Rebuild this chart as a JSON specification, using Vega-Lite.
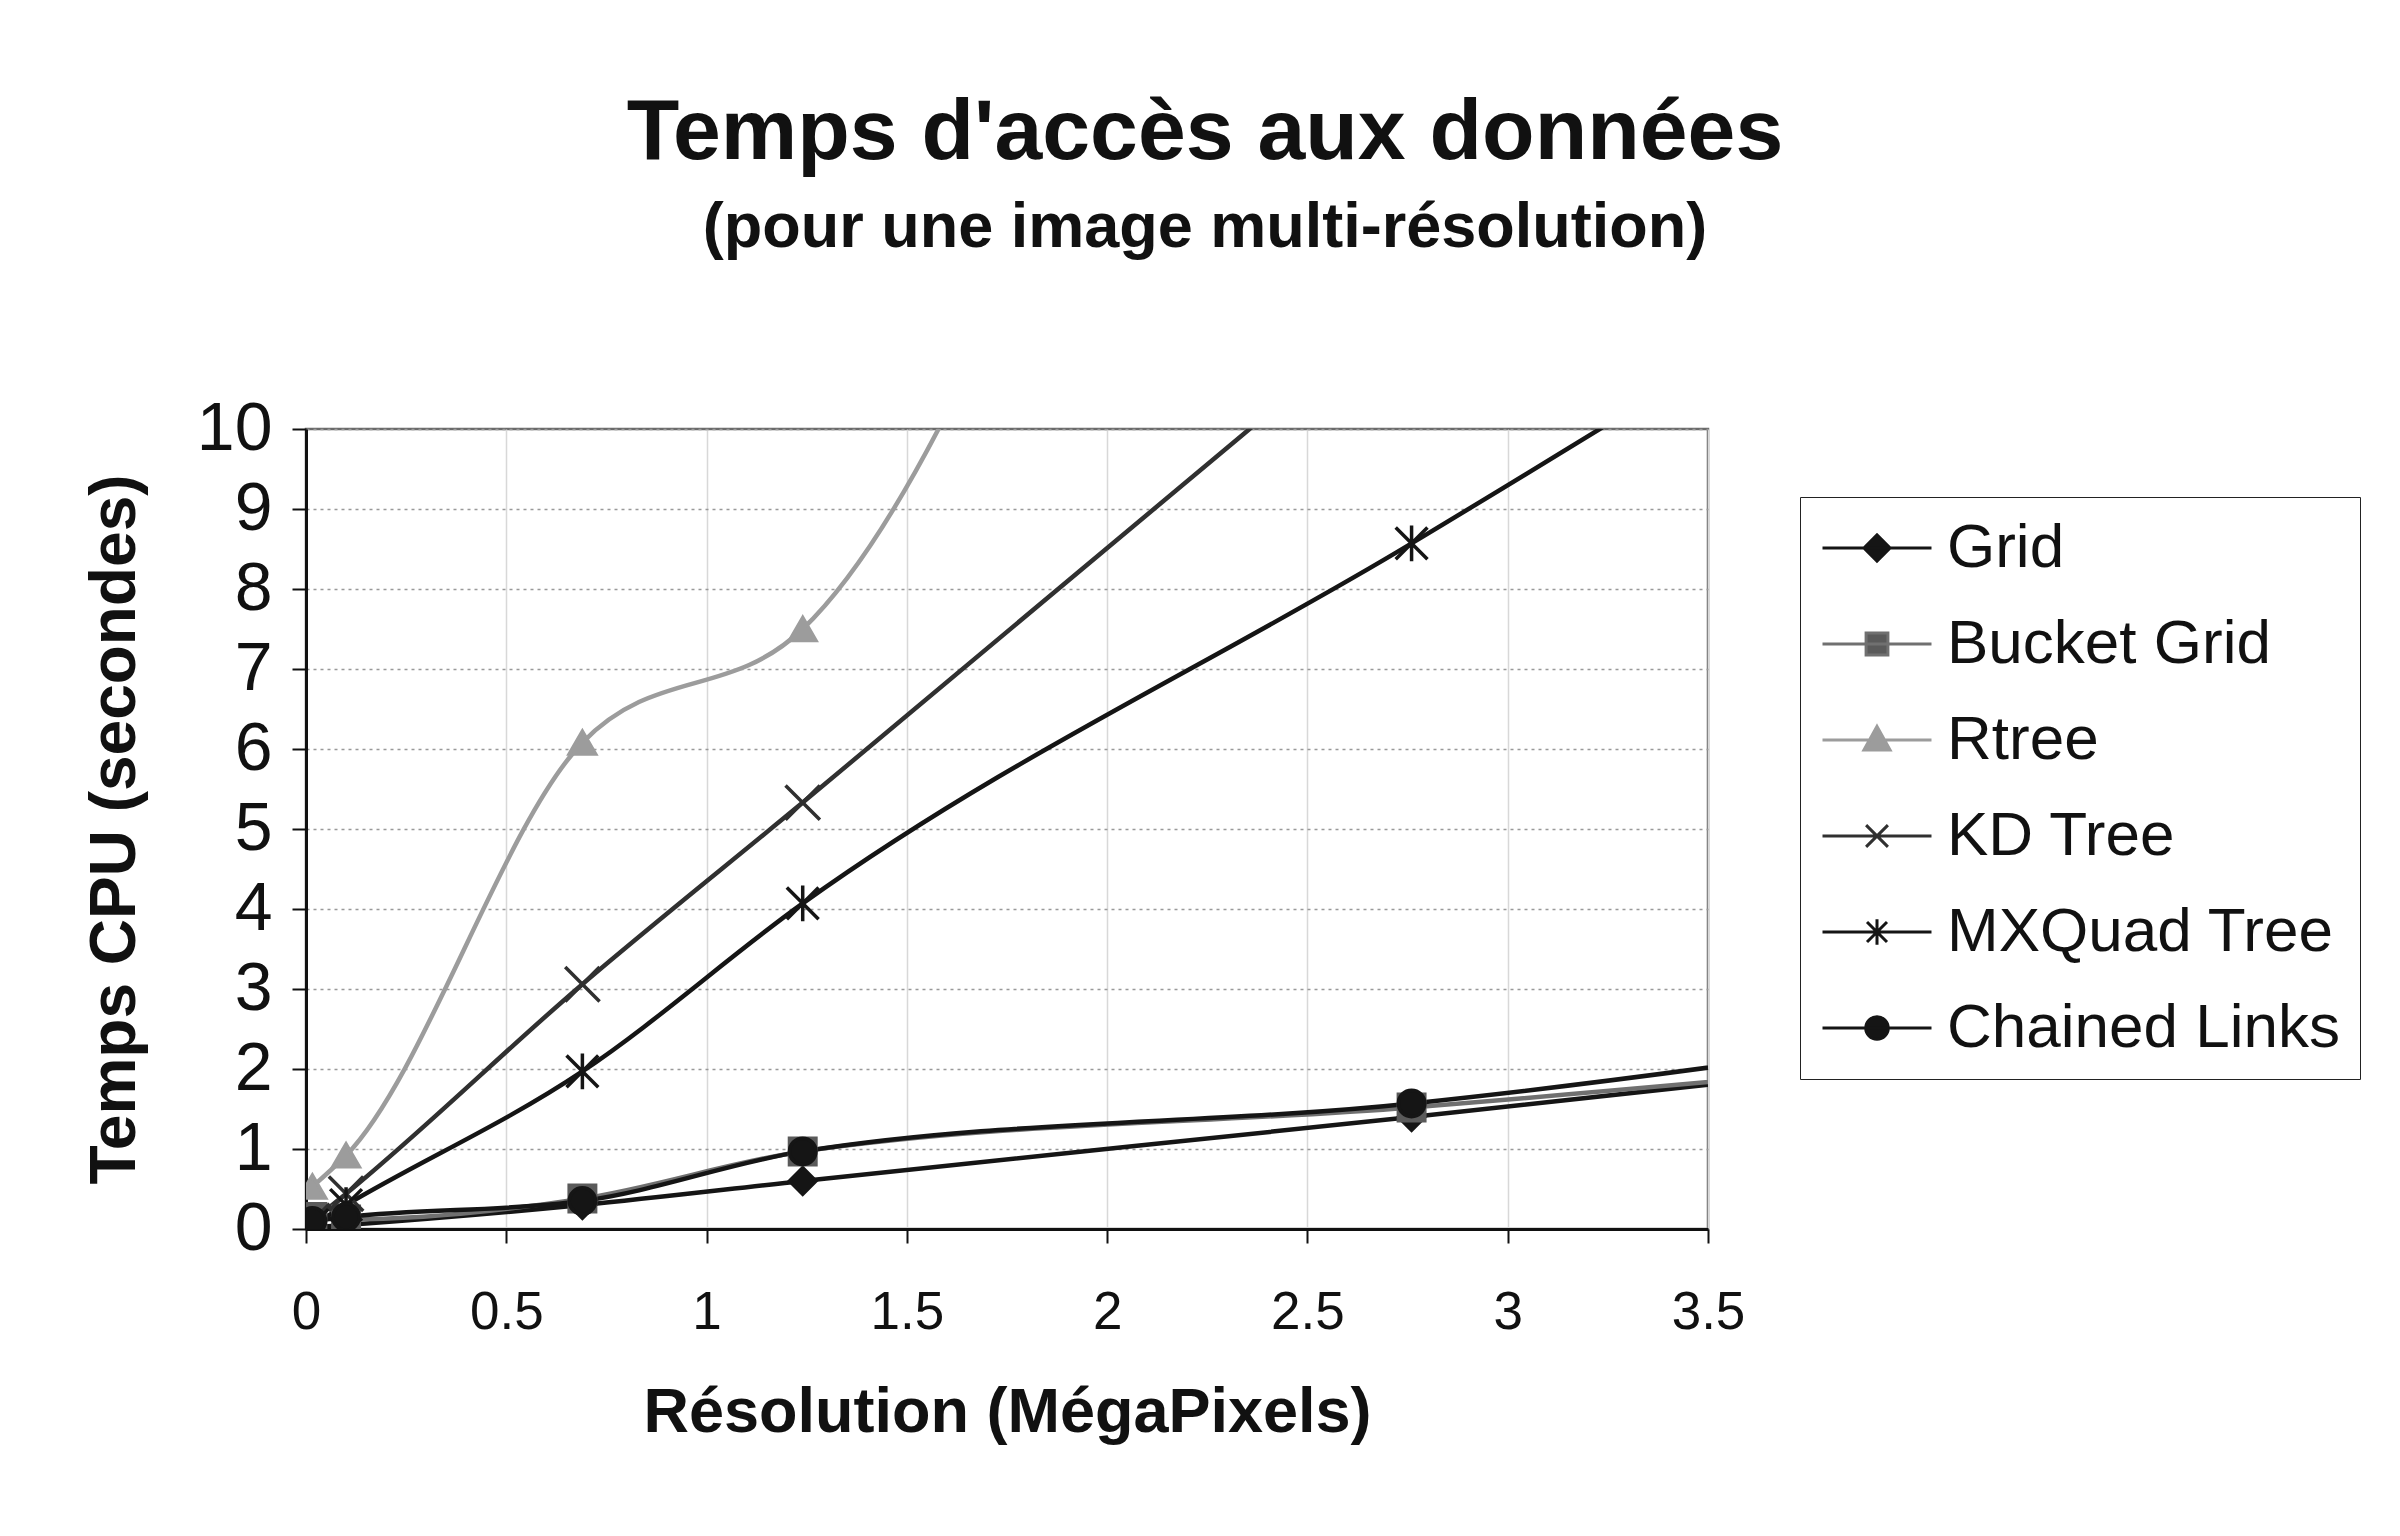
{
  "$schema": "https://vega.github.io/schema/vega-lite/v6.json",
  "autosize": "none",
  "width": 1402,
  "height": 800,
  "padding": {"left": 306, "top": 429, "right": 692, "bottom": 307},
  "background": "white",
  "title": {
    "text": "Temps d'accès aux données",
    "subtitle": "(pour une image multi-résolution)",
    "font": "Liberation Sans",
    "subtitleFont": "Liberation Sans",
    "fontSize": 86,
    "subtitleFontSize": 63,
    "fontWeight": "bold",
    "subtitleFontWeight": "bold",
    "color": "#111111",
    "subtitleColor": "#111111",
    "anchor": "middle",
    "frame": "group",
    "dx": 198,
    "offset": 134,
    "subtitlePadding": 20
  },
  "data": {
    "values": [
      {"series": "Grid", "x": 0.016, "y": 0.02},
      {"series": "Grid", "x": 0.1, "y": 0.05},
      {"series": "Grid", "x": 0.69, "y": 0.3},
      {"series": "Grid", "x": 1.24, "y": 0.6},
      {"series": "Grid", "x": 2.76, "y": 1.4},
      {"series": "Grid", "x": 4.9, "y": 2.57},
      {"series": "Bucket Grid", "x": 0.016, "y": 0.15},
      {"series": "Bucket Grid", "x": 0.1, "y": 0.12},
      {"series": "Bucket Grid", "x": 0.69, "y": 0.38},
      {"series": "Bucket Grid", "x": 1.24, "y": 0.97},
      {"series": "Bucket Grid", "x": 2.76, "y": 1.52},
      {"series": "Bucket Grid", "x": 4.9, "y": 2.5},
      {"series": "Rtree", "x": 0.016, "y": 0.53},
      {"series": "Rtree", "x": 0.1, "y": 0.92},
      {"series": "Rtree", "x": 0.69, "y": 6.08},
      {"series": "Rtree", "x": 1.24, "y": 7.5},
      {"series": "Rtree", "x": 2.76, "y": 24},
      {"series": "Rtree", "x": 4.9, "y": 42},
      {"series": "KD Tree", "x": 0.016, "y": 0.1},
      {"series": "KD Tree", "x": 0.1, "y": 0.44},
      {"series": "KD Tree", "x": 0.69, "y": 3.06},
      {"series": "KD Tree", "x": 1.24, "y": 5.33},
      {"series": "KD Tree", "x": 2.76, "y": 11.7},
      {"series": "KD Tree", "x": 4.9, "y": 20.7},
      {"series": "MXQuad Tree", "x": 0.016, "y": 0.05},
      {"series": "MXQuad Tree", "x": 0.1, "y": 0.3},
      {"series": "MXQuad Tree", "x": 0.69, "y": 1.97},
      {"series": "MXQuad Tree", "x": 1.24, "y": 4.07},
      {"series": "MXQuad Tree", "x": 2.76, "y": 8.57},
      {"series": "MXQuad Tree", "x": 4.9, "y": 15.2},
      {"series": "Chained Links", "x": 0.016, "y": 0.1},
      {"series": "Chained Links", "x": 0.1, "y": 0.15},
      {"series": "Chained Links", "x": 0.69, "y": 0.35},
      {"series": "Chained Links", "x": 1.24, "y": 0.97},
      {"series": "Chained Links", "x": 2.76, "y": 1.57},
      {"series": "Chained Links", "x": 4.9, "y": 3.07}
    ]
  },
  "encoding": {
    "x": {
      "field": "x", "type": "quantitative",
      "scale": {"domain": [0, 3.5], "nice": false, "zero": false},
      "axis": {
        "values": [0, 0.5, 1, 1.5, 2, 2.5, 3, 3.5],
        "format": "~g",
        "title": "Résolution (MégaPixels)",
        "labelFontSize": 53,
        "labelPadding": 43,
        "titleFontSize": 63,
        "titlePadding": 42,
        "grid": true,
        "gridColor": "#d8d8d8",
        "gridWidth": 1.5,
        "gridDash": []
      }
    },
    "y": {
      "field": "y", "type": "quantitative",
      "scale": {"domain": [0, 10], "nice": false, "zero": false},
      "axis": {
        "values": [0, 1, 2, 3, 4, 5, 6, 7, 8, 9, 10],
        "title": "Temps CPU (secondes)",
        "labelFontSize": 68,
        "labelPadding": 20,
        "titleFontSize": 64,
        "titlePadding": 49,
        "grid": true,
        "gridColor": "#999999",
        "gridWidth": 1.5,
        "gridDash": [3, 4]
      }
    }
  },
  "layer": [
    {
      "mark": {"type": "line", "interpolate": "monotone", "clip": true, "strokeWidth": 4.5},
      "encoding": {
        "stroke": {
          "field": "series", "type": "nominal", "legend": null,
          "scale": {
            "domain": ["Grid", "Bucket Grid", "Rtree", "KD Tree", "MXQuad Tree", "Chained Links"],
            "range": ["#151515", "#707070", "#9c9c9c", "#303030", "#151515", "#151515"]
          }
        }
      }
    },
    {
      "mark": {"type": "point", "filled": true, "size": 700, "strokeWidth": 3.5, "opacity": 1, "clip": true},
      "encoding": {
        "shape": {
          "field": "series", "type": "nominal", "legend": null,
          "scale": {
            "domain": ["Grid", "Bucket Grid", "Rtree", "KD Tree", "MXQuad Tree", "Chained Links"],
            "range": ["diamond", "square", "triangle-up", "M-1.3,-1.3L1.3,1.3M-1.3,1.3L1.3,-1.3", "M-1.2,-1.2L1.2,1.2M-1.2,1.2L1.2,-1.2M0,-1.35L0,1.35", "circle"]
          }
        },
        "fill": {
          "field": "series", "type": "nominal", "legend": null,
          "scale": {
            "domain": ["Grid", "Bucket Grid", "Rtree", "KD Tree", "MXQuad Tree", "Chained Links"],
            "range": ["#151515", "#5a5a5a", "#9c9c9c", "#303030", "#151515", "#151515"]
          }
        },
        "stroke": {
          "field": "series", "type": "nominal", "legend": null,
          "scale": {
            "domain": ["Grid", "Bucket Grid", "Rtree", "KD Tree", "MXQuad Tree", "Chained Links"],
            "range": ["#151515", "#5a5a5a", "#9c9c9c", "#303030", "#151515", "#151515"]
          }
        }
      }
    },
    {
      "transform": [{"filter": "false"}],
      "mark": {"type": "point", "filled": true, "strokeWidth": 3, "opacity": 1},
      "encoding": {
        "x": {"field": "x", "type": "quantitative"},
        "y": {"field": "y", "type": "quantitative"},
        "shape": {
          "field": "series", "type": "nominal",
          "scale": {
            "domain": ["Grid", "Bucket Grid", "Rtree", "KD Tree", "MXQuad Tree", "Chained Links"],
            "range": [
              "M-3,0H3M-0.72,0L0,-0.72L0.72,0L0,0.72Z",
              "M-3,0H3M-0.6,-0.6H0.6V0.6H-0.6Z",
              "M-3,0H3M0,-0.75L0.72,0.55H-0.72Z",
              "M-3,0H3M-0.6,-0.6L0.6,0.6M-0.6,0.6L0.6,-0.6",
              "M-3,0H3M-0.55,-0.55L0.55,0.55M-0.55,0.55L0.55,-0.55M0,-0.7L0,0.7",
              "M-3,0H3M-0.62,0A0.62,0.62 0 1,0 0.62,0A0.62,0.62 0 1,0 -0.62,0Z"
            ]
          },
          "legend": {
            "title": null, "orient": "none", "legendX": 1494, "legendY": 68,
            "labelFont": "Liberation Sans", "labelFontSize": 62, "labelColor": "#111111",
            "symbolSize": 1320, "symbolStrokeWidth": 3, "symbolOffset": 26, "labelOffset": 39,
            "rowPadding": 34, "padding": 20, "strokeColor": "#222222", "fillColor": "white",
            "labelLimit": 800
          }
        },
        "fill": {
          "field": "series", "type": "nominal",
          "scale": {
            "domain": ["Grid", "Bucket Grid", "Rtree", "KD Tree", "MXQuad Tree", "Chained Links"],
            "range": ["#151515", "#5a5a5a", "#9c9c9c", "#303030", "#151515", "#151515"]
          },
          "legend": {
            "title": null, "orient": "none", "legendX": 1494, "legendY": 68,
            "labelFont": "Liberation Sans", "labelFontSize": 62, "labelColor": "#111111",
            "symbolSize": 1320, "symbolStrokeWidth": 3, "symbolOffset": 26, "labelOffset": 39,
            "rowPadding": 34, "padding": 20, "strokeColor": "#222222", "fillColor": "white",
            "labelLimit": 800
          }
        },
        "stroke": {
          "field": "series", "type": "nominal",
          "scale": {
            "domain": ["Grid", "Bucket Grid", "Rtree", "KD Tree", "MXQuad Tree", "Chained Links"],
            "range": ["#151515", "#707070", "#9c9c9c", "#303030", "#151515", "#151515"]
          },
          "legend": {
            "title": null, "orient": "none", "legendX": 1494, "legendY": 68,
            "labelFont": "Liberation Sans", "labelFontSize": 62, "labelColor": "#111111",
            "symbolSize": 1320, "symbolStrokeWidth": 3, "symbolOffset": 26, "labelOffset": 39,
            "rowPadding": 34, "padding": 20, "strokeColor": "#222222", "fillColor": "white",
            "labelLimit": 800
          }
        }
      }
    }
  ],
  "resolve": {"scale": {"shape": "independent", "fill": "independent", "stroke": "independent"}},
  "config": {
    "font": "Liberation Sans",
    "view": {"stroke": "#6a6a6a", "strokeWidth": 2.5},
    "axis": {
      "labelFont": "Liberation Sans",
      "titleFont": "Liberation Sans",
      "labelColor": "#111111",
      "titleColor": "#111111",
      "titleFontWeight": "bold",
      "domainColor": "#111111",
      "domainWidth": 3,
      "tickColor": "#111111",
      "tickWidth": 2,
      "tickSize": 14,
      "labelFlush": false,
      "labelOverlap": false
    }
  }
}
